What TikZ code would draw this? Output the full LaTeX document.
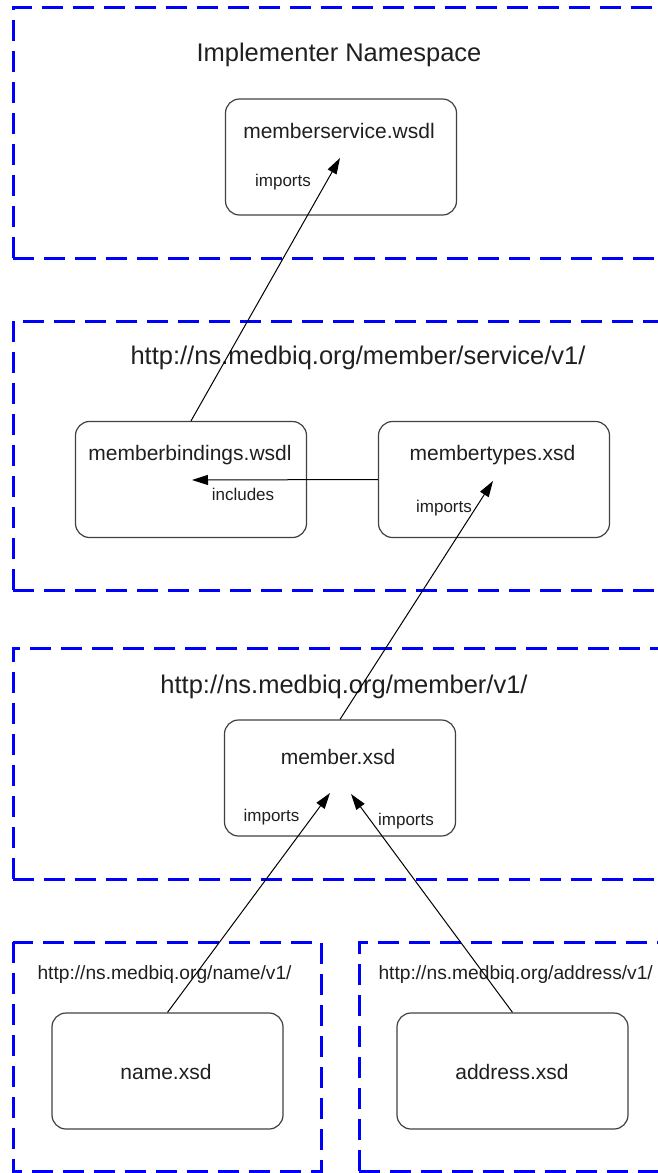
\documentclass[tikz,border=0pt]{standalone}
\usepackage{fontspec}
\setmainfont{Liberation Sans}
\usetikzlibrary{arrows.meta}
\usetikzlibrary{positioning}

\tikzset{
  ns/.style={draw=blue, line width=3pt, dash pattern=on 21pt off 10pt},
  file/.style={draw=black!75, line width=1.2pt, rounded corners=14pt,
    minimum width=231pt, minimum height=116pt, inner sep=0pt},
  fname/.style={font=\fontsize{21}{25}\selectfont, text=black!88},
  title/.style={font=\fontsize{25.5}{30}\selectfont, text=black!88},
  subtitle/.style={font=\fontsize{19.2}{23}\selectfont, text=black!88, anchor=west},
  lbl/.style={font=\fontsize{17}{20}\selectfont, text=black!88},
  imp/.style={->, color=black, line width=1pt}
}

\begin{document}
\begin{tikzpicture}[x=1pt,y=-1pt,>={Triangle[length=16pt,width=10pt]}]
        \clip (0,0) rectangle (658,1173);
        % namespaces
        \draw[ns] (13,258) |- (700,7.5);
        \draw[ns] (13,258) -- (700,258);
        \draw[ns] (13,590) |- (700,321);
        \draw[ns] (13,590) -- (700,590);
        \draw[ns] (13,879) |- (700,648);
        \draw[ns] (13,879) -- (700,879);
        \draw[ns] (13,942) rectangle (321,1171);
        \draw[ns] (359,1171) |- (700,942);
        \draw[ns] (359,1171) -- (700,1171);
        \node[title] (t_impl) at (339,55)  {Implementer Namespace};
        \node[title] (t_svc)  at (358,358) {http://ns.medbiq.org/member/service/v1/};
        \node[title] (t_mem)  at (344,687) {http://ns.medbiq.org/member/v1/};
        \node[subtitle] (t_name) at (34,975) {http://ns.medbiq.org/name/v1/};
        \node[subtitle] (t_addr) at (375,975) {http://ns.medbiq.org/address/v1/};
        % files
        \node[file] (ms) at (341,157)    {};
        \node[file] (mb) at (191,479.5)  {};
        \node[file] (mt) at (494,479.5)  {};
        \node[file] (m)  at (340,778)    {};
        \node[file] (n)  at (167.5,1071) {};
        \node[file] (a)  at (512.5,1071) {};
        \node[fname] (ms_t) at (339,131)   {memberservice.wsdl};
        \node[fname] (mb_t) at (190,455)   {memberbindings.wsdl};
        \node[fname] (mt_t) at (492.5,455) {membertypes.xsd};
        \node[fname] (m_t)  at (338,757)   {member.xsd};
        \node[fname] (n_t)  at (166,1072)  {name.xsd};
        \node[fname] (a_t)  at (512,1072)  {address.xsd};
        % arrow ends
        \coordinate (ms_in) at (340,158);
        \coordinate (mb_in) at (192,480);
        \coordinate (mt_in) at (493,481);
        \coordinate (m_l)   at (330,793);
        \coordinate (m_r)   at (351,794);
        \path[imp]
        (mb.north) edge (ms_in)
        (mt.west)  edge (mb_in)
        (m.north)  edge (mt_in)
        (n.north)  edge (m_l)
        (a.north)  edge (m_r);
        \node[lbl] (l_ms) at (283,182)   {imports};
        \node[lbl] (l_mb) at (243,494)   {includes};
        \node[lbl] (l_mt) at (444,508)   {imports};
        \node[lbl] (l_n)  at (271.5,817) {imports};
        \node[lbl] (l_a)  at (406,821)   {imports};
    \end{tikzpicture}
\end{document}
